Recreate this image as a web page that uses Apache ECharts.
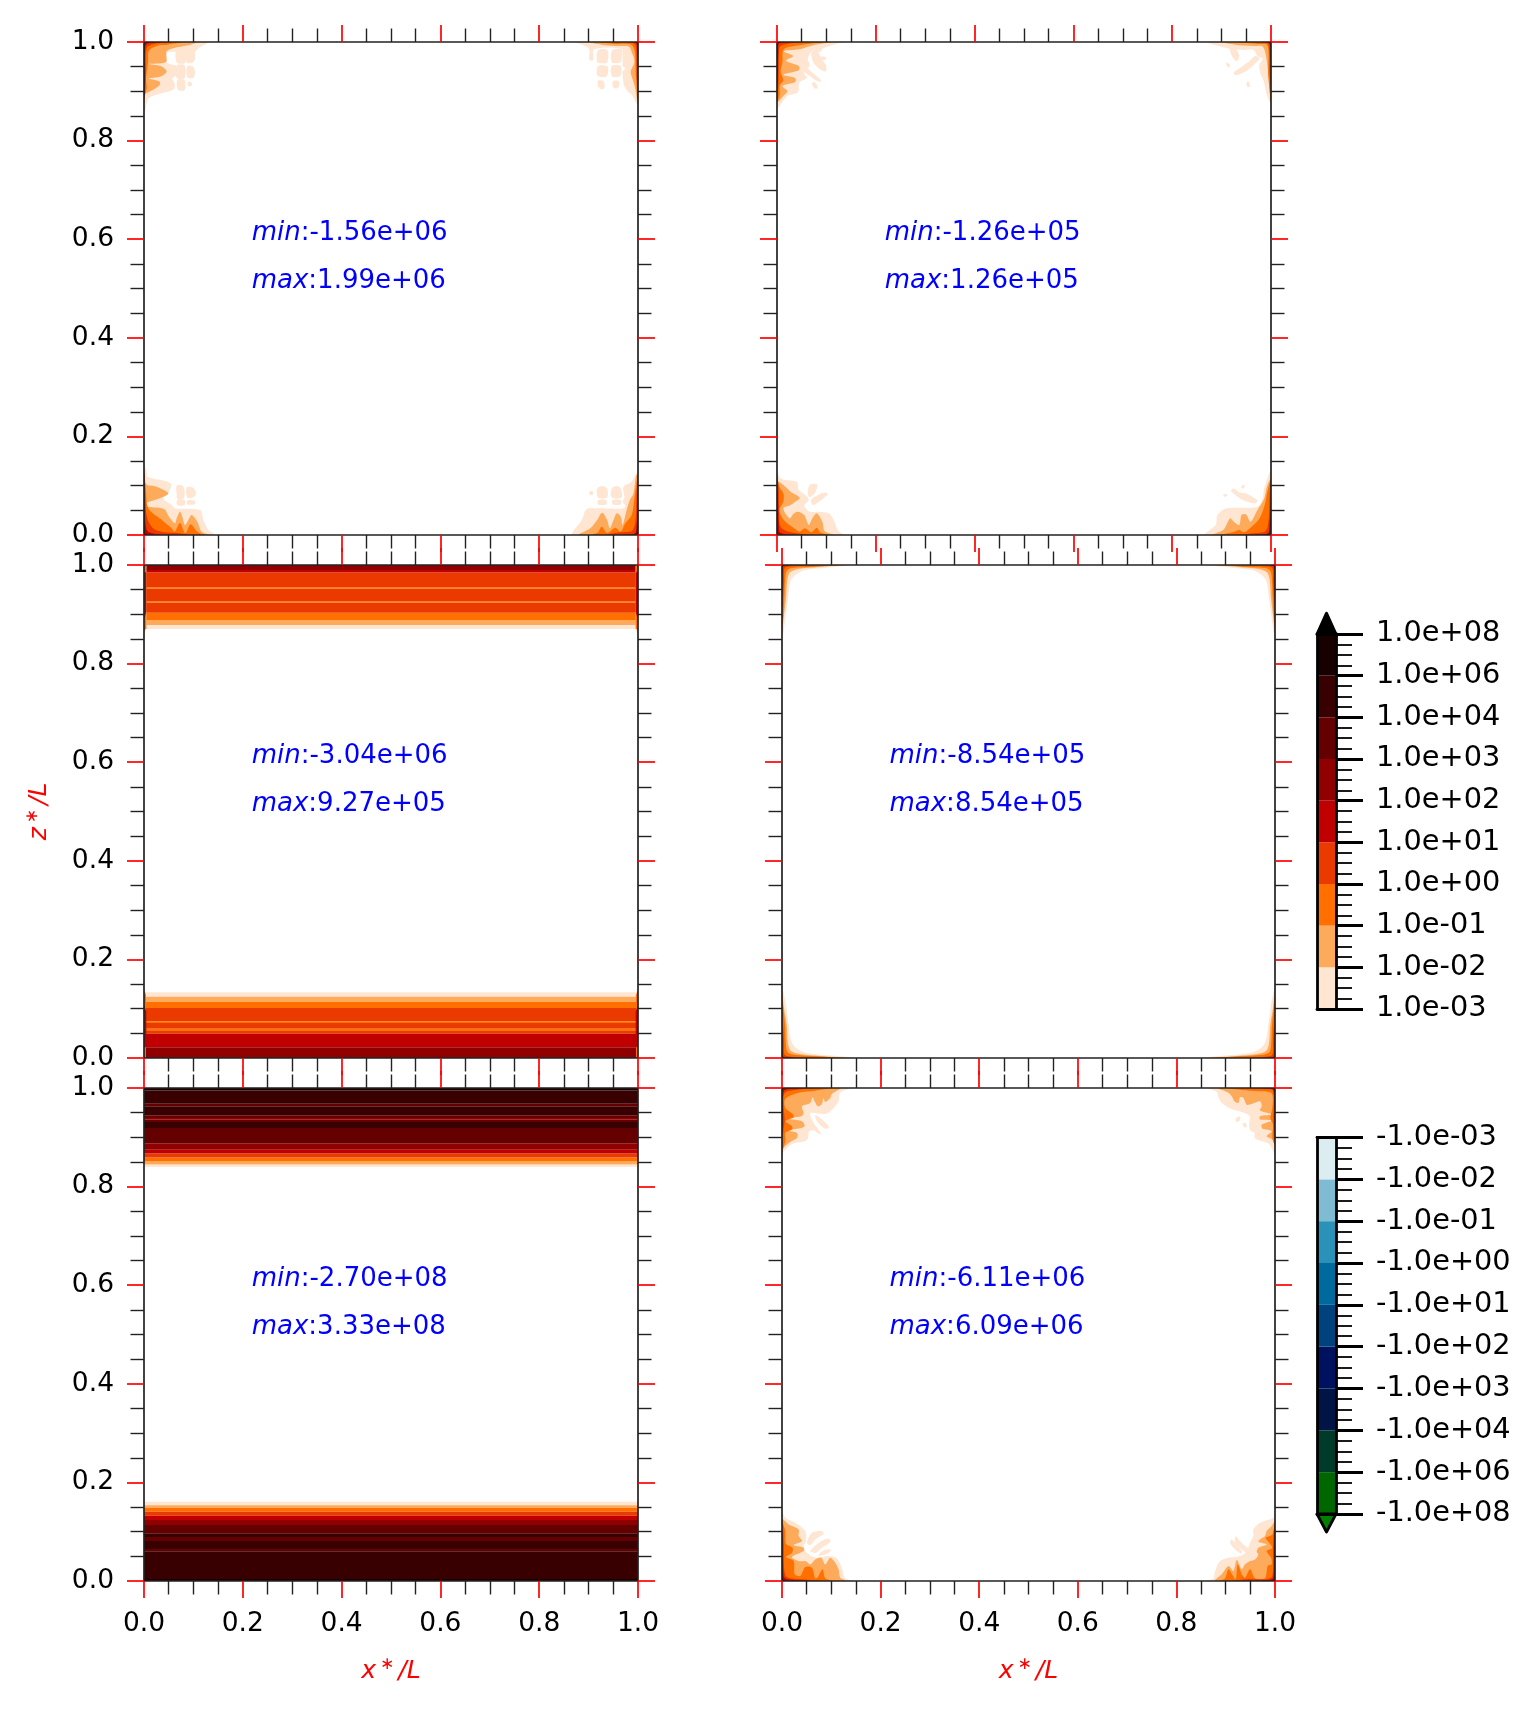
<!DOCTYPE html>
<html><head><meta charset="utf-8">
<style>html,body{margin:0;padding:0;background:#fff}#c{width:1536px;height:1710px}</style>
<script src="https://cdn.jsdelivr.net/npm/echarts@6/dist/echarts.min.js"></script>
</head><body><div id="c"></div>
<script>
const tickLabels = ['0.0','0.2','0.4','0.6','0.8','1.0'];
const warmLabels = ['1.0e-03','1.0e-02','1.0e-01','1.0e+00','1.0e+01','1.0e+02','1.0e+03','1.0e+04','1.0e+06','1.0e+08'];
const coldLabels = ['-1.0e+08','-1.0e+06','-1.0e+04','-1.0e+03','-1.0e+02','-1.0e+01','-1.0e+00','-1.0e-01','-1.0e-02','-1.0e-03'];
const warmColors = ['#fee6d2','#fdab5a','#ff7000','#ea3a00','#c00000','#900000','#640000','#380000','#180000'];
const coldColors = ['#006600','#003a2a','#001445','#001160','#00427e','#006a9e','#2a92b8','#7fbcd4','#dcedf2'];
const minValues = ['-1.56e+06','-1.26e+05','-3.04e+06','-8.54e+05','-2.70e+08','-6.11e+06'];
const maxValues = ['1.99e+06','1.26e+05','9.27e+05','8.54e+05','3.33e+08','6.09e+06'];

// contour pieces near each corner: [level, [[distance from x wall, distance from z wall], ...]]
const p1TL = [
 [0,[[0,0],[193,0],[170,14],[150,28],[100,30],[70,32],[68,60],[84,68],[96,72],[96,100],[85,110],[92,125],[90,142],[60,152],[33,160],[13,170],[3,209],[0,209]]],
 [0,[[98,18],[124,18],[124,62],[98,62]]],[0,[[128,18],[150,18],[153,50],[146,62],[128,62]]],
 [0,[[98,70],[122,70],[122,108],[98,108]]],[0,[[130,72],[148,75],[153,90],[148,108],[130,106]]],
 [0,[[100,114],[122,114],[122,144],[105,146],[100,140]]],[0,[[132,120],[140,120],[145,126],[140,133],[132,132]]],
 [1,[[0,0],[160,0],[140,8],[100,16],[68,28],[66,60],[14,66],[50,72],[68,88],[50,104],[14,110],[45,118],[48,128],[30,142],[0,152]]],
 [2,[[0,0],[115,0],[70,8],[45,10],[15,26],[12,60],[6,110],[8,140],[0,165]]],
 [3,[[0,0],[80,0],[30,6],[8,18],[6,100],[3,150],[0,170]]],
 [4,[[0,0],[50,0],[12,4],[4,14],[3,130],[0,185]]],
 [6,[[0,0],[30,0],[3,3],[1,100],[0,100]]]];
const p1BL = [
 [0,[[0,0],[213,0],[193,15],[178,45],[168,75],[93,80],[83,90],[58,110],[73,125],[80,155],[10,175],[8,190],[0,213]]],
 [0,[[98,148],[116,148],[122,130],[118,108],[100,108],[98,125]]],[0,[[128,143],[146,143],[156,128],[150,114],[130,112]]],
 [0,[[100,105],[122,105],[122,90],[100,90]]],[0,[[130,104],[150,104],[155,97],[150,92],[130,92]]],
 [1,[[0,0],[198,0],[173,10],[160,40],[143,60],[133,45],[123,30],[115,55],[108,70],[98,50],[93,35],[75,55],[60,78],[13,85],[0,90]]],
 [1,[[0,100],[40,108],[73,125],[50,140],[30,147],[10,150],[0,160]]],
 [2,[[0,0],[180,0],[160,10],[140,32],[128,10],[122,6],[108,36],[92,10],[83,20],[50,48],[13,80],[6,130],[0,190]]],
 [3,[[0,0],[135,0],[100,6],[60,8],[30,18],[14,40],[6,70],[3,170],[0,195]]],
 [4,[[0,0],[50,0],[12,10],[5,30],[3,120],[0,180]]],
 [6,[[0,0],[20,0],[4,4],[2,70],[0,70]]]];
const p1TR = [
 [0,[[0,0],[139,0],[120,10],[108,20],[107,54],[99,54],[97,22],[36,22],[34,60],[34,72],[28,78],[34,90],[32,122],[30,134],[22,150],[14,157],[2,187],[0,187]]],
 [0,[[67,25],[88,25],[90,60],[80,64],[68,62]]],[0,[[35,25],[57,25],[58,60],[46,64],[38,60]]],
 [0,[[67,74],[88,72],[90,100],[78,106],[68,102]]],[0,[[38,72],[58,72],[58,102],[46,106],[38,100]]],
 [0,[[76,118],[88,116],[88,134],[80,142],[74,138]]],[0,[[42,118],[55,118],[55,136],[47,140],[42,134]]],
 [1,[[0,0],[110,0],[80,8],[50,12],[20,14],[14,30],[8,60],[16,90],[10,120],[6,140],[0,190]]],
 [2,[[0,0],[85,0],[50,6],[15,8],[7,30],[5,100],[0,175]]],
 [3,[[0,0],[50,0],[10,4],[4,20],[3,100],[0,140]]],
 [5,[[0,0],[25,0],[4,3],[2,30],[0,50]]]];
const p1BR = [
 [0,[[0,0],[144,0],[124,45],[114,77],[95,80],[34,80],[28,88],[34,100],[30,112],[32,145],[14,160],[2,190],[0,190]]],
 [0,[[68,113],[88,113],[90,140],[78,147],[68,140]]],[0,[[36,113],[58,113],[58,140],[47,147],[38,140]]],
 [0,[[70,92],[88,92],[88,105],[70,105]]],[0,[[38,92],[56,92],[56,105],[38,105]]],[0,[[100,120],[107,122],[107,130],[100,132]]],
 [1,[[0,0],[130,0],[105,20],[90,45],[79,67],[68,45],[62,20],[54,45],[47,65],[38,55],[34,30],[25,75],[18,105],[10,125],[4,180],[0,180]]],
 [2,[[0,0],[100,0],[88,8],[80,25],[68,6],[50,22],[38,10],[28,35],[14,60],[8,110],[0,180]]],
 [3,[[0,0],[70,0],[40,8],[14,12],[6,40],[3,130],[0,160]]],
 [5,[[0,0],[30,0],[6,5],[3,30],[0,80]]]];
const p2TL = [
 [0,[[0,0],[148,0],[125,8],[100,20],[95,30],[78,26],[68,50],[72,70],[60,95],[66,108],[50,120],[48,132],[46,152],[23,162],[3,197],[0,197]]],
 [0,[[76,30],[88,26],[98,50],[108,70],[108,88],[98,85],[85,70],[78,55]]],
 [0,[[62,70],[72,85],[95,112],[98,118],[90,118],[70,100],[60,88]]],
 [0,[[92,45],[107,45],[108,52],[95,54]]],[0,[[78,122],[84,122],[90,138],[84,140],[78,130]]],
 [1,[[0,0],[120,0],[80,10],[50,22],[15,28],[36,42],[20,56],[48,72],[48,85],[14,98],[40,108],[40,120],[12,132],[23,148],[12,165],[0,180]]],
 [2,[[0,0],[100,0],[50,10],[15,22],[12,60],[8,90],[14,115],[6,130],[6,160],[0,180]]],
 [3,[[0,0],[70,0],[25,5],[6,15],[4,90],[3,130],[0,170]]],
 [4,[[0,0],[40,0],[5,4],[3,30],[2,100],[0,130]]],
 [6,[[0,0],[20,0],[3,2],[2,50],[0,50]]]];
const p2TR = [
 [0,[[0,0],[141,0],[115,12],[85,22],[60,24],[38,24],[30,42],[18,50],[26,70],[22,100],[18,110],[14,130],[10,155],[1,187],[0,187]]],
 [0,[[90,20],[80,18],[70,40],[75,58],[85,45]]],
 [0,[[25,48],[30,58],[55,88],[78,100],[82,92],[50,60],[35,42]]],
 [0,[[96,62],[90,72],[95,76],[99,68]]],[0,[[50,118],[46,134],[52,135],[54,122]]],
 [1,[[0,0],[110,0],[80,8],[40,12],[18,14],[10,50],[5,110],[0,180]]],
 [2,[[0,0],[80,0],[30,6],[8,10],[6,100],[0,175]]],
 [3,[[0,0],[50,0],[8,4],[4,30],[3,90],[0,140]]],
 [5,[[0,0],[25,0],[4,3],[2,40],[0,60]]]];
const p2BL = [
 [0,[[0,0],[148,0],[135,12],[125,45],[115,65],[90,70],[72,70],[60,88],[70,105],[62,120],[48,135],[43,160],[8,170],[0,200]]],
 [0,[[72,150],[88,152],[85,130],[75,115],[68,118]]],[0,[[80,90],[112,122],[108,128],[92,122],[75,105]]],
 [1,[[0,0],[125,0],[105,12],[100,40],[88,65],[78,50],[70,30],[60,60],[45,70],[35,62],[28,50],[14,80],[30,90],[40,100],[50,112],[30,130],[14,150],[0,160]]],
 [2,[[0,0],[115,0],[95,8],[88,22],[75,8],[62,20],[50,10],[40,18],[15,45],[5,75],[14,100],[14,125],[5,145],[0,180]]],
 [3,[[0,0],[80,0],[30,8],[8,25],[5,70],[4,140],[0,175]]],
 [4,[[0,0],[40,0],[8,6],[4,30],[2,120],[0,150]]],
 [6,[[0,0],[20,0],[3,3],[2,70],[0,70]]]];
const p2BR = [
 [0,[[0,0],[146,0],[122,30],[118,60],[100,80],[60,82],[30,85],[18,110],[16,135],[8,170],[0,195]]],
 [0,[[82,140],[88,132],[62,105],[35,95],[30,104],[55,125],[70,128]]],
 [0,[[96,120],[102,115],[106,118],[100,124]]],[0,[[60,140],[66,142],[62,150],[58,148]]],
 [1,[[0,0],[130,0],[105,15],[90,50],[82,40],[70,30],[65,60],[55,62],[45,40],[30,75],[15,110],[10,140],[0,170]]],
 [2,[[0,0],[110,0],[85,8],[70,15],[60,8],[45,22],[25,50],[14,90],[8,130],[0,165]]],
 [3,[[0,0],[75,0],[40,5],[12,12],[5,50],[3,120],[0,155]]],
 [5,[[0,0],[35,0],[6,5],[3,35],[0,90]]]];
const p4Top = [
 [0,[[0,0],[215,0],[130,8],[70,15],[40,30],[25,50],[18,100],[10,160],[4,205],[0,225]]],
 [1,[[0,0],[190,0],[110,6],[50,12],[24,22],[16,45],[12,100],[5,160],[0,205]]],
 [2,[[0,0],[175,0],[100,5],[30,9],[14,18],[9,50],[7,100],[4,150],[0,190]]],
 [3,[[0,0],[110,0],[30,4],[8,10],[6,50],[3,100],[0,130]]],
 [5,[[0,0],[40,0],[6,2],[3,8],[1,40],[0,50]]]];
const p4Bottom = [
 [0,[[0,0],[228,0],[140,8],[75,15],[42,30],[28,50],[20,100],[12,160],[4,200],[0,220]]],
 [1,[[0,0],[200,0],[115,6],[55,12],[26,22],[18,45],[14,100],[6,150],[0,200]]],
 [2,[[0,0],[180,0],[105,5],[35,10],[16,18],[11,50],[9,100],[4,150],[0,185]]],
 [3,[[0,0],[115,0],[30,4],[8,10],[6,50],[3,100],[0,130]]],
 [5,[[0,0],[40,0],[6,2],[3,8],[1,40],[0,50]]]];
const p6TL = [
 [0,[[0,0],[208,0],[175,14],[170,40],[150,66],[130,78],[85,76],[95,105],[108,125],[82,130],[78,150],[68,160],[30,168],[5,192],[1,217],[0,217]]],
 [0,[[100,82],[115,90],[140,115],[138,122],[125,120],[105,100]]],[0,[[75,92],[95,112],[118,136],[112,138],[90,120],[78,105]]],
 [1,[[0,0],[175,0],[150,18],[145,30],[130,42],[125,30],[120,48],[108,55],[98,40],[92,28],[85,45],[60,55],[65,75],[58,85],[15,92],[60,100],[68,115],[50,122],[15,128],[45,135],[45,150],[25,162],[5,180],[0,200]]],
 [2,[[0,0],[150,0],[100,8],[50,14],[10,32],[10,60],[32,78],[35,88],[10,100],[30,115],[30,125],[10,135],[10,160],[0,185]]],
 [3,[[0,0],[110,0],[45,5],[8,15],[5,60],[8,95],[4,130],[0,170]]],
 [4,[[0,0],[70,0],[20,3],[5,10],[3,100],[0,150]]],
 [6,[[0,0],[35,0],[3,3],[2,70],[0,80]]]];
const p6TR = [
 [0,[[0,0],[205,0],[175,12],[170,28],[160,45],[130,64],[100,72],[78,82],[75,95],[78,112],[74,128],[62,135],[60,152],[20,167],[3,197],[0,215]]],
 [0,[[105,85],[118,92],[116,102],[106,98]]],[0,[[88,105],[98,108],[92,118],[85,118]]],
 [1,[[0,0],[170,0],[140,14],[130,25],[122,40],[110,45],[105,28],[95,30],[85,50],[70,48],[45,40],[40,55],[45,68],[10,80],[45,85],[45,95],[10,98],[40,110],[38,122],[10,130],[25,145],[8,155],[0,175]]],
 [2,[[0,0],[140,0],[100,6],[50,10],[10,16],[8,60],[14,90],[6,110],[8,150],[0,170]]],
 [3,[[0,0],[100,0],[30,4],[6,8],[5,100],[3,150],[0,165]]],
 [4,[[0,0],[60,0],[8,3],[3,20],[2,100],[0,130]]],
 [6,[[0,0],[30,0],[3,2],[2,60],[0,60]]]];
const p6BL = [
 [0,[[0,0],[215,0],[190,8],[180,40],[165,68],[140,75],[110,70],[88,75],[70,90],[65,108],[72,118],[70,150],[40,175],[10,190],[0,210]]],
 [0,[[85,90],[115,118],[140,128],[146,118],[120,100],[100,84]]],[0,[[75,115],[90,145],[118,150],[125,142],[100,125],[85,108]]],
 [0,[[110,78],[125,92],[145,95],[145,88],[125,78]]],
 [1,[[0,0],[195,0],[175,10],[170,35],[160,55],[145,70],[130,50],[118,70],[100,65],[85,50],[70,60],[50,60],[30,72],[65,90],[65,100],[35,108],[60,120],[50,135],[50,155],[20,170],[0,185]]],
 [2,[[0,0],[150,0],[130,8],[122,35],[108,12],[100,8],[90,40],[70,42],[55,15],[38,20],[35,60],[12,72],[30,85],[32,100],[12,112],[10,150],[4,170],[0,185]]],
 [3,[[0,0],[120,0],[60,5],[15,12],[6,40],[5,110],[3,170],[0,180]]],
 [4,[[0,0],[80,0],[12,6],[5,15],[3,120],[0,150]]],
 [6,[[0,0],[40,0],[4,4],[2,60],[0,70]]]];
const p6BR = [
 [0,[[0,0],[205,0],[185,8],[180,30],[165,60],[140,70],[120,72],[95,80],[80,100],[75,115],[65,135],[65,155],[45,175],[5,190],[0,210]]],
 [0,[[118,135],[112,128],[90,105],[72,92],[78,82],[100,95],[120,115]]],[0,[[135,115],[130,125],[100,90],[102,82],[125,100]]],
 [1,[[0,0],[180,0],[160,20],[140,45],[125,30],[115,63],[100,35],[90,50],[75,60],[60,65],[50,80],[55,88],[50,100],[25,110],[50,118],[45,125],[30,135],[25,150],[10,165],[0,180]]],
 [2,[[0,0],[165,0],[150,8],[140,35],[128,18],[118,5],[112,50],[100,20],[90,10],[75,35],[60,8],[30,8],[22,45],[10,50],[12,70],[25,90],[8,100],[20,118],[28,130],[8,140],[0,175]]],
 [3,[[0,0],[130,0],[80,6],[25,6],[8,15],[6,100],[3,160],[0,175]]],
 [4,[[0,0],[90,0],[15,4],[5,10],[3,110],[0,150]]],
 [6,[[0,0],[40,0],[4,3],[2,60],[0,60]]]];
const p3WallTop = [
 [0,[[0,0],[7,0],[7,192],[3,205],[0,212]]],[2,[[0,0],[7,0],[7,190],[3,195],[0,198]]],[4,[[0,22],[7,22],[7,140],[3,155],[0,165]]]];
const p3WallBottom = [
 [0,[[0,0],[6,0],[6,197],[3,208],[0,212]]],[2,[[0,0],[6,0],[6,190],[3,197],[0,200]]],[4,[[0,32],[7,32],[7,140],[3,150],[0,160]]]];

// horizontal contour bands: depth from the wall, as a fraction of L, and the level inside each
const p3TopDepth = [0,.0101,.0149,.0453,.048,.0737,.0764,.0967,.1116,.1217,.1298];
const p3TopLevel = [5,4,3,2,3,2,3,2,1,0];
const p3BottomDepth = [0,.0216,.0494,.0548,.0595,.071,.0744,.1014,.1143,.1244,.1332];
const p3BottomLevel = [5,4,3,2,3,2,3,2,1,0];
const p5TopDepth = [0,.005,.0318,.0372,.0554,.0609,.0642,.069,.0811,.112,.125,.133,.141,.149,.155,.16];
const p5TopLevel = [8,7,6,7,6,5,6,7,6,5,4,3,2,1,0];
const p5BottomDepth = [0,.004,.0602,.0649,.0811,.0893,.0967,.1136,.1237,.1325,.1406,.1488,.1535,.1609];
const p5BottomLevel = [8,7,6,7,6,7,6,5,4,3,2,1,0];

function corner(list, cx, cz, perX, perZ, smooth){
  return list.map(([lv,pts])=>({lv, smooth, pts:pts.map(([a,b])=>[cx?1-a/perX:a/perX, cz?1-b/perZ:b/perZ])}));
}
function bands(depth, levels, cz){
  return levels.map((lv,i)=>{
    const a=cz?1-depth[i]:depth[i], b=cz?1-depth[i+1]:depth[i+1];
    return {lv, smooth:0, pts:[[0,a],[1,a],[1,b],[0,b]]};
  }).reverse();
}
const S=.3, NX=1482, WX=1089, Z=1482;
const pieces = [
  [...corner(p1TL,0,1,NX,Z,S),...corner(p1BL,0,0,NX,Z,S),...corner(p1TR,1,1,WX,Z,S),...corner(p1BR,1,0,WX,Z,S)],
  [...corner(p2TL,0,1,WX,Z,S),...corner(p2TR,1,1,WX,Z,S),...corner(p2BL,0,0,WX,Z,S),...corner(p2BR,1,0,WX,Z,S)],
  [...bands(p3TopDepth,p3TopLevel,1),...bands(p3BottomDepth,p3BottomLevel,0),
   ...corner(p3WallTop,0,1,NX,Z,0),...corner(p3WallTop,1,1,NX,Z,0),...corner(p3WallBottom,0,0,NX,Z,0),...corner(p3WallBottom,1,0,NX,Z,0)],
  [...corner(p4Top,0,1,NX,Z,S),...corner(p4Top,1,1,NX,Z,S),...corner(p4Bottom,0,0,NX,Z,S),...corner(p4Bottom,1,0,NX,Z,S)],
  [...bands(p5TopDepth,p5TopLevel,1),...bands(p5BottomDepth,p5BottomLevel,0)],
  [...corner(p6TL,0,1,NX,Z,S),...corner(p6TR,1,1,NX,Z,S),...corner(p6BL,0,0,NX,Z,S),...corner(p6BR,1,0,NX,Z,S)]
];

const FONT='"DejaVu Sans"';
const panelRects=[[144,42,494,493],[777,42,494,493],[144,565,494,493],[782,565,493,493],[144,1088,494,493],[782,1088,493,493]];
const grid=[],xAxis=[],yAxis=[],series=[];
const nameRich={i:{fontFamily:FONT,fontStyle:'italic',fontSize:25,color:'#ff0000'},
                s:{fontFamily:FONT,fontSize:17,color:'#ff0000',padding:[0,4,14,4]}};
function mainAxis(g,pos,labels,extra){
  return Object.assign({gridIndex:g,type:'value',min:0,max:1,interval:.2,position:pos,z:5,
    axisLine:{show:true,onZero:false,lineStyle:{color:'#222',width:1.7}},
    axisTick:{show:true,inside:false,length:17,lineStyle:{color:'#ff0000',width:1.7}},
    minorTick:{show:true,splitNumber:4,length:13.5,lineStyle:{color:'#222',width:1.4}},
    splitLine:{show:false},minorSplitLine:{show:false},
    axisLabel:{show:labels,margin:30,color:'#000',fontFamily:FONT,fontSize:26.5,padding:[5,0,0,0],formatter:(v,i)=>tickLabels[i]}},extra||{});
}
panelRects.forEach((r,g)=>{
  grid.push({left:r[0],top:r[1],width:r[2],height:r[3],show:false});
  const bottomRow=g>=4, leftCol=g%2===0;
  const xIdx=xAxis.length, yIdx=yAxis.length;
  xAxis.push(mainAxis(g,'bottom',bottomRow,bottomRow?{name:'{i|x}{s|∗}{i|/L}',nameLocation:'middle',nameGap:75,nameMoveOverlap:false,nameTextStyle:{rich:nameRich}}:{}));
  if(bottomRow){xAxis[xIdx].axisLabel.margin=29;xAxis[xIdx].axisLabel.padding=[1,0,0,0];}
  xAxis.push(mainAxis(g,'top',false));
  yAxis.push(mainAxis(g,'left',leftCol,g===2?{name:'{i|z}{s|∗}{i|/L}',nameLocation:'middle',nameGap:89,nameRotate:90,nameMoveOverlap:false,nameTextStyle:{rich:nameRich}}:{}));
  yAxis.push(mainAxis(g,'right',false));
  const list=pieces[g];
  series.push({type:'custom',xAxisIndex:xIdx,yAxisIndex:yIdx,silent:true,animation:false,clip:true,
    data:list.map(p=>p.pts[0]),
    renderItem:(params,api)=>{
      const p=list[params.dataIndex];
      return {type:'polygon',shape:{points:p.pts.map(q=>api.coord(q)),smooth:p.smooth},style:{fill:warmColors[p.lv],stroke:null}};
    }});
  series.push({type:'custom',xAxisIndex:xIdx,yAxisIndex:yIdx,silent:true,animation:false,
    data:[[.218,.6125,'min',minValues[g]],[.218,.5145,'max',maxValues[g]]],
    z:4,
    renderItem:(params,api)=>{
      const c=api.coord([api.value(0),api.value(1)]);
      const d=params.dataIndex===0?['min',minValues[g]]:['max',maxValues[g]];
      return {type:'text',x:c[0],y:c[1],style:{text:'{i|'+d[0]+'}{n|:'+d[1]+'}',verticalAlign:'middle',align:'left',
        rich:{i:{fontFamily:FONT,fontStyle:'italic',fontSize:26,fill:'#0000ff'},n:{fontFamily:FONT,fontSize:26,fill:'#0000ff'}}}};
    }});
});

function colorbar(rect,labels,colors,tip,tipFill){
  const g=grid.length, xIdx=xAxis.length, yIdx=yAxis.length, n=colors.length;
  grid.push({left:rect[0],top:rect[1],width:rect[2],height:rect[3],show:false});
  const line={show:true,onZero:false,lineStyle:{color:'#000',width:2.8}};
  const xa=pos=>({gridIndex:g,type:'value',min:0,max:1,position:pos,z:5,axisLine:line,axisTick:{show:false},axisLabel:{show:false},splitLine:{show:false}});
  xAxis.push(xa('bottom'),xa('top'));
  yAxis.push({gridIndex:g,type:'value',min:0,max:n,interval:1,position:'left',z:5,axisLine:line,axisTick:{show:false},axisLabel:{show:false},splitLine:{show:false}});
  yAxis.push({gridIndex:g,type:'value',min:0,max:n,interval:1,position:'right',z:5,axisLine:line,
    axisTick:{show:true,inside:false,length:27,lineStyle:{color:'#000',width:3}},
    minorTick:{show:true,splitNumber:4,length:16,lineStyle:{color:'#000',width:1.8}},
    splitLine:{show:false},minorSplitLine:{show:false},
    axisLabel:{show:true,margin:40,color:'#000',fontFamily:FONT,fontSize:28.8,padding:[6,0,0,0],formatter:(v,i)=>labels[i]}});
  series.push({type:'custom',xAxisIndex:xIdx,yAxisIndex:yIdx,silent:true,animation:false,clip:false,
    data:colors.map((c,i)=>[0,i]),
    renderItem:(params,api)=>{
      const i=params.dataIndex;
      const pts=[[0,i],[1,i],[1,i+1],[0,i+1]].map(q=>api.coord(q));
      return {type:'polygon',shape:{points:pts},style:{fill:colors[i]}};
    }});
  series.push({type:'custom',xAxisIndex:xIdx,yAxisIndex:yIdx,silent:true,animation:false,clip:false,
    data:[tip[0]],
    renderItem:(params,api)=>({type:'polygon',shape:{points:tip.map(q=>api.coord(q))},style:{fill:tipFill,stroke:'#000',lineWidth:2.8,lineJoin:'round'}})});
}
const warmTip=[[0,9],[1,9],[.5,9.5]];
const coldTip=[[0,0],[1,0],[.5,-.43]];
colorbar([1317,634,19,375],warmLabels,warmColors,warmTip,'#000000');
colorbar([1317,1137.5,19,376.5],coldLabels,coldColors,coldTip,'#008000');

const chart=echarts.init(document.getElementById('c'),null,{renderer:'canvas'});
chart.setOption({animation:false,backgroundColor:'#fff',grid,xAxis,yAxis,series});
</script></body></html>
